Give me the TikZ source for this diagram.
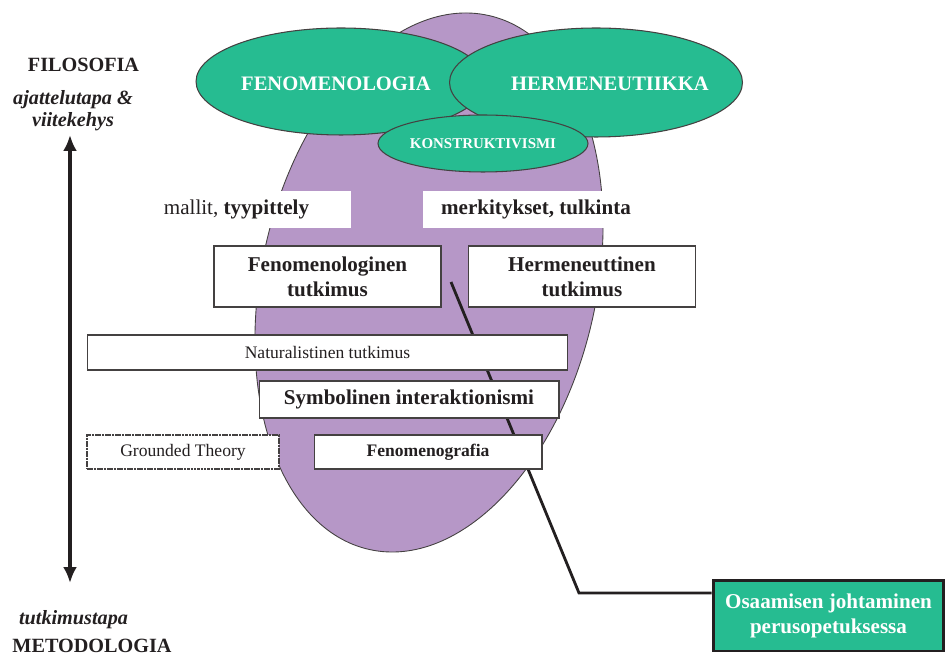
\documentclass[tikz,border=0pt]{standalone}
\usepackage{fontspec}
\setmainfont{Liberation Serif}
\usepackage{tikz}
\usetikzlibrary{arrows.meta,shapes.geometric,positioning}
\definecolor{ovalgreen}{HTML}{26BC91}
\definecolor{lilac}{HTML}{B697C7}
\definecolor{inkblack}{HTML}{231F20}
\tikzset{
  lilacshape/.style={
    draw=inkblack!85,
    fill=lilac,
    line width=0.5pt
  },
  philoval/.style={
    ellipse,
    draw=inkblack!85,
    fill=ovalgreen,
    line width=0.6pt,
    inner sep=0pt,
    text=white,
    font=\bfseries\fontsize{11.7}{14}\selectfont
  },
  ovaltext/.style={
    inner sep=0pt,
    text=white,
    font=\bfseries\fontsize{11.7}{14}\selectfont
  },
  wordbox/.style={
    fill=white,
    inner sep=0pt,
    text=inkblack,
    minimum height=0.74cm,
    font=\fontsize{12}{14}\selectfont
  },
  methodbox/.style={
    draw=inkblack!85,
    fill=white,
    line width=0.6pt,
    inner sep=0pt,
    align=center,
    text=inkblack,
    font=\bfseries\fontsize{12}{14.2}\selectfont
  },
  smallbox/.style={
    methodbox,
    minimum height=0.68cm,
    font=\fontsize{10}{12}\selectfont
  },
  resultbox/.style={
    draw=inkblack,
    fill=ovalgreen,
    line width=1.7pt,
    inner sep=0pt,
    align=center,
    text=white,
    minimum width=4.62cm,
    minimum height=1.42cm,
    font=\bfseries\fontsize{12}{14.2}\selectfont
  },
  sidehead/.style={
    inner sep=0pt,
    text=inkblack,
    font=\bfseries\fontsize{11.5}{14}\selectfont
  },
  sidenote/.style={
    inner sep=0pt,
    align=center,
    text=inkblack,
    font=\bfseries\itshape\fontsize{11.5}{12.6}\selectfont
  },
  scalearrow/.style={
    {Latex[length=3.2mm,width=2.8mm]}-{Latex[length=3.2mm,width=2.8mm]},
    line width=2.2pt,
    draw=inkblack
  },
  linkline/.style={
    line width=1.6pt,
    draw=inkblack
  }
}

\begin{document}
\begin{tikzpicture}[x=0.02cm, y=0.02cm]
    \useasboundingbox (0,0) rectangle (946,-661);

    % the big oval behind everything
    \draw[lilacshape, rotate around={-12.6:(429,-282.5)}] (429,-282.5) ellipse [x radius=167.5, y radius=273.6];

    % scale on the left
    \node[sidehead] (filosofia) at (83.5,-65) {FILOSOFIA};
    \node[sidenote] (ajattelutapa) at (73,-111) {ajattelutapa \&\\viitekehys};
    \node[sidenote] (tutkimustapa) at (73.5,-620) {tutkimustapa};
    \node[sidehead] (metodologia) at (92,-646) {METODOLOGIA};
    \coordinate (scaletop) at (70,-135);
    \coordinate (scalebottom) at (70,-583);
    \draw[scalearrow] (scaletop) -- (scalebottom);

    % own study and its link
    \node[resultbox] (osaaminen) at (828.5,-615.5) {
        Osaamisen johtaminen\\
        perusopetuksessa
    };
    \coordinate (linkstart) at (451,-282);
    \coordinate (linkbend) at (579,-593);
    \draw[linkline] (linkstart) -- (linkbend) -- (linkbend -| osaaminen.west);

    % keywords and approaches
    \node[wordbox, minimum width=4.58cm] (mallit) at (236.5,-209.5) {mallit, \textbf{tyypittely}};
    \node[wordbox, minimum width=4.52cm, font=\bfseries\fontsize{12}{14}\selectfont] (merkitykset) at (536,-209.5) {merkitykset, tulkinta};
    \node[methodbox, minimum width=4.54cm, minimum height=1.22cm] (fentutkimus) at (327.5,-276.5) {
        Fenomenologinen\\
        tutkimus
    };
    \node[methodbox, minimum width=4.54cm, minimum height=1.22cm] (hertutkimus) at (582,-276.5) {
        Hermeneuttinen\\
        tutkimus
    };
    \node[smallbox, minimum width=9.62cm, minimum height=0.7cm] (naturalistinen) at (327.5,-352.5) {Naturalistinen tutkimus};
    \node[methodbox, minimum width=6cm, minimum height=0.74cm] (symbolinen) at (409,-399.5) {Symbolinen interaktionismi};
    \node[smallbox, minimum width=3.84cm, dash pattern={on 1.5pt off 0.4pt}, line width=0.9pt] (grounded) at (183,-452) {Grounded Theory};
    \node[smallbox, minimum width=4.56cm, font=\bfseries\fontsize{10}{12}\selectfont] (fenomenografia) at (428,-452) {Fenomenografia};

    % philosophies on top
    \node[philoval, minimum width=5.8cm, minimum height=2.14cm,
          label={[ovaltext, xshift=-0.1cm, yshift=-0.05cm]center:FENOMENOLOGIA}] (fenomenologia) at (341,-81.5) {};
    \node[philoval, minimum width=5.86cm, minimum height=2.18cm,
          label={[ovaltext, xshift=0.28cm, yshift=-0.03cm]center:HERMENEUTIIKKA}] (hermeneutiikka) at (596,-82.5) {};
    \node[philoval, minimum width=4.2cm, minimum height=1.14cm, font=\bfseries\fontsize{8.5}{10}\selectfont] (konstruktivismi) at (483,-143.5) {KONSTRUKTIVISMI};
\end{tikzpicture}
\end{document}
